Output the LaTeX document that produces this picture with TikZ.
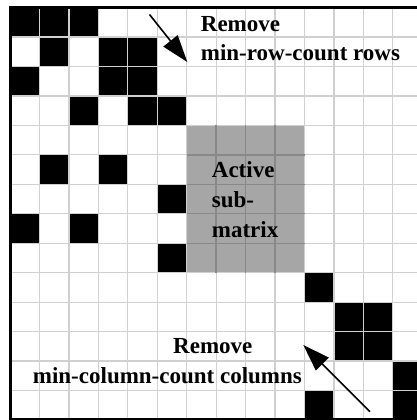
\documentclass[tikz,border=0pt]{standalone}
\usepackage{fontspec}
\setmainfont{Liberation Serif}
\usetikzlibrary{arrows.meta}
\definecolor{gridc}{HTML}{D0D0D0}
\definecolor{subc}{HTML}{A6A6A6}
\definecolor{subgrid}{HTML}{888888}
\begin{document}
\begin{tikzpicture}[x=1pt,y=-1pt,
  lbl/.style={anchor=base west, inner sep=0pt, font=\bfseries\fontsize{23}{28}\selectfont},
  ptr/.style={line width=1.6pt, -{Triangle[length=27pt,width=18pt]}},
  gridline/.style={gridc, line width=1.2pt},
  subline/.style={subgrid, line width=1.4pt},
  blk/.style={fill=black}
  ]
\def\ox{10}\def\oy{7.6}\def\s{29.45}
\useasboundingbox (0,0) rectangle (417,420);
\clip (0,0) rectangle (417,420);
\fill[white] (0,0) rectangle (417,420);
% active submatrix
\fill[subc] (\ox+6*\s,\oy+4*\s) rectangle ++(4*\s,5*\s);
% nonzero entries
\foreach \r/\c in {0/0,0/1,0/2,1/1,1/3,1/4,2/0,2/3,2/4,3/2,3/4,3/5,5/1,5/3,6/5,7/0,7/2,8/5,9/10,10/11,10/12,11/11,11/12,12/13,13/10,13/13}
  \fill[blk] (\ox+\c*\s,\oy+\r*\s) rectangle ++(\s,\s);
% grid
\foreach \k in {1,...,13} {
  \draw[gridline] (\ox+\k*\s,\oy) -- (\ox+\k*\s,\oy+14*\s);
  \draw[gridline] (\ox,\oy+\k*\s) -- (\ox+14*\s,\oy+\k*\s);
}
\foreach \k in {7,8,9} \draw[subline] (\ox+\k*\s,\oy+4*\s) -- (\ox+\k*\s,\oy+9*\s);
\foreach \k in {5,6,7,8} \draw[subline] (\ox+6*\s,\oy+\k*\s) -- (\ox+10*\s,\oy+\k*\s);
% border
\draw[line width=3pt] (\ox,\oy) rectangle (\ox+14*\s,\oy+14*\s);
% labels
\node[lbl] (rr1) at (200.7,31.5) {Remove};
\node[lbl] (rr2) at (200.7,60) {min-row-count rows};
\node[lbl] (a1) at (211.7,177.3) {Active};
\node[lbl] (a2) at (211.7,207) {sub-};
\node[lbl] (a3) at (211.7,237) {matrix};
\node[lbl] (rc1) at (173,353.3) {Remove};
\node[lbl] (rc2) at (32.7,383.3) {min-column-count columns};
% arrows
\coordinate (t1) at (149.5,14.5);
\coordinate (h1) at (187.3,62);
\coordinate (t2) at (370,411.7);
\coordinate (h2) at (303.3,345);
\draw[ptr] (t1) -- (h1);
\draw[ptr] (t2) -- (h2);
\end{tikzpicture}
\end{document}
